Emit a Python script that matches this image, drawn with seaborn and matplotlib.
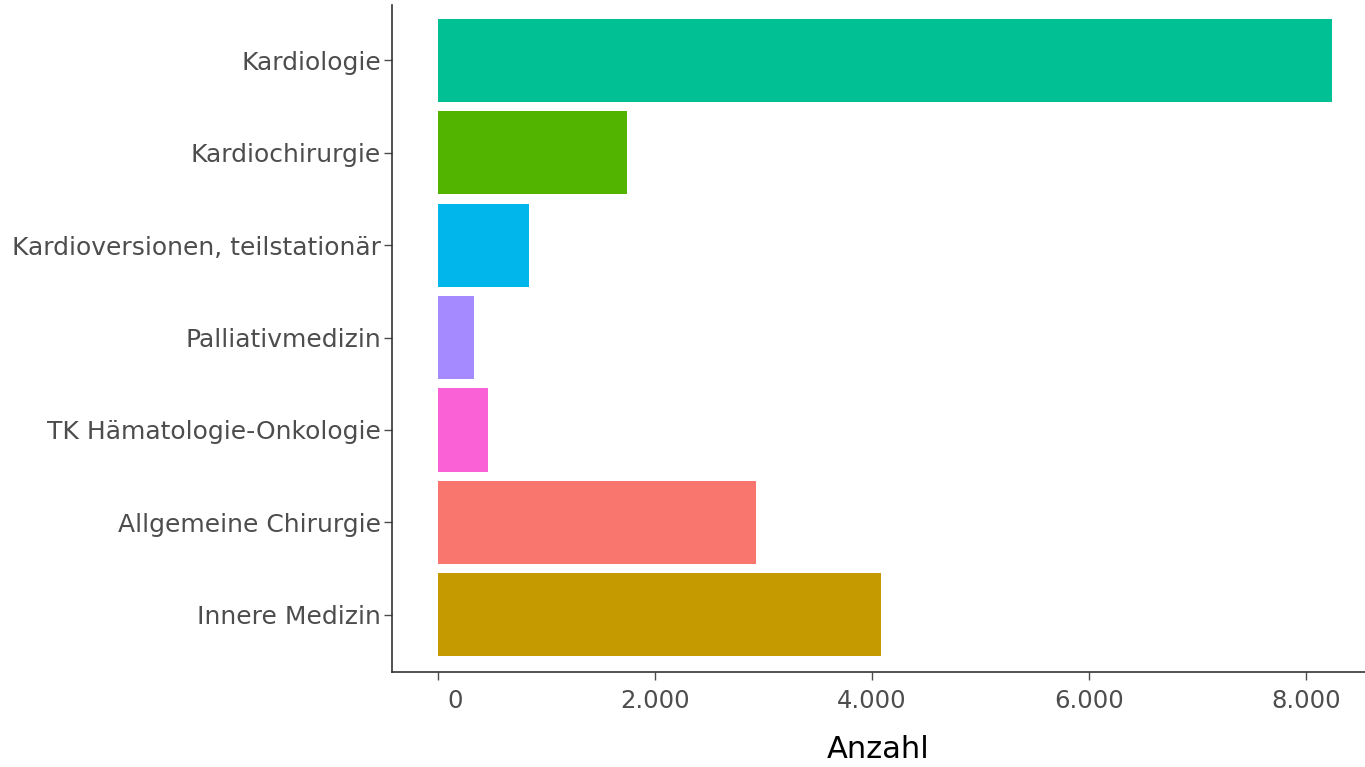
import matplotlib
matplotlib.use("Agg")
import matplotlib.pyplot as plt
import matplotlib.transforms as mtransforms
import seaborn as sns
import pandas as pd
from matplotlib.ticker import FixedLocator

categories = ["Kardiologie", "Kardiochirurgie", "Kardioversionen, teilstationär",
              "Palliativmedizin", "TK Hämatologie-Onkologie", "Allgemeine Chirurgie",
              "Innere Medizin"]
values = [8240, 1742, 839, 332, 461, 2931, 4083]
colors = ["#00C094", "#53B400", "#00B6EB", "#A58AFF", "#FB61D7", "#F8766D", "#C49A00"]
xticks = [0, 2000, 4000, 6000, 8000]
xticklabels = ["0", "2.000", "4.000", "6.000", "8.000"]

df = pd.DataFrame({"Fachabteilung": categories, "Anzahl": values})

sns.set_theme(style="white")
plt.rcParams['font.family'] = ['DejaVu Sans']

fig = plt.figure(figsize=(13.65, 7.67), dpi=100)
ax = fig.add_axes([392/1365, 95/767, 1 - 392/1365, (672-5)/767])

sns.barplot(data=df, x="Anzahl", y="Fachabteilung", hue="Fachabteilung",
            palette=dict(zip(categories, colors)), order=categories,
            width=0.9, saturation=1, legend=False, ax=ax, edgecolor="none")

ax.set_xlim(-424, 8544)
ax.set_ylim(6.62, -0.6)
ax.xaxis.set_major_locator(FixedLocator(xticks))
ax.set_xticklabels(xticklabels)
ax.set_ylabel("")
ax.set_xlabel("Anzahl", fontsize=22, color="black", labelpad=16)
for s in ["top", "right"]:
    ax.spines[s].set_visible(False)
for s in ["left", "bottom"]:
    ax.spines[s].set_color("#333333")
    ax.spines[s].set_linewidth(1.2)
ax.tick_params(axis="y", which="major", length=6, width=1, color="#4d4d4d",
               labelcolor="#4d4d4d", labelsize=18, pad=2, left=True)
ax.tick_params(axis="x", which="major", length=6, width=1, color="#4d4d4d",
               labelcolor="#4d4d4d", labelsize=17.5, pad=6, bottom=True)

# shift the "0" label slightly right as in the reference
lbl0 = ax.get_xticklabels()[0]
lbl0.set_transform(lbl0.get_transform() + mtransforms.ScaledTranslation(17/100, 0, fig.dpi_scale_trans))

fig.savefig("out.png", dpi=100)
